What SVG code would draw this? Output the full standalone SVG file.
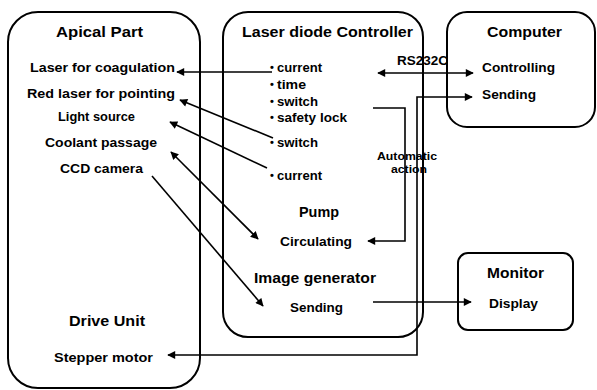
<svg xmlns="http://www.w3.org/2000/svg" width="597" height="390" viewBox="0 0 597 390">
<defs>
<style>
.box{fill:none;stroke:#000;stroke-width:2}
.t{font-family:"Liberation Sans",Arial,sans-serif;font-weight:bold;font-size:13.5px;fill:#000}
.h{font-family:"Liberation Sans",Arial,sans-serif;font-weight:bold;font-size:14px;fill:#000}
.s{font-family:"Liberation Sans",Arial,sans-serif;font-weight:bold;font-size:11px;fill:#000}
.b{font-family:"Liberation Sans",Arial,sans-serif;font-weight:bold;font-size:11px;fill:#000}
.c{fill:none;stroke:#000;stroke-width:1.6}
</style>
<marker id="ah" viewBox="0 0 10 10" refX="9" refY="5" markerWidth="9" markerHeight="8" markerUnits="userSpaceOnUse" orient="auto-start-reverse">
<path d="M0,0 L10,5 L0,10 Z" fill="#000"/>
</marker>
</defs>
<rect width="597" height="390" fill="#fff"/>

<g id="apical">
<rect class="box" x="8" y="12" width="192" height="376" rx="30"/>
<text class="h" x="56" y="37" textLength="87" lengthAdjust="spacingAndGlyphs">Apical Part</text>
<text class="t" x="30" y="72" textLength="145" lengthAdjust="spacingAndGlyphs">Laser for coagulation</text>
<text class="t" x="27" y="98" textLength="148" lengthAdjust="spacingAndGlyphs">Red laser for pointing</text>
<text class="t" x="58" y="121" textLength="77" lengthAdjust="spacingAndGlyphs">Light source</text>
<text class="t" x="45" y="147" textLength="112" lengthAdjust="spacingAndGlyphs">Coolant passage</text>
<text class="t" x="60" y="173" textLength="83" lengthAdjust="spacingAndGlyphs">CCD camera</text>
<text class="h" x="69" y="326" textLength="76" lengthAdjust="spacingAndGlyphs">Drive Unit</text>
<text class="t" x="54" y="362" textLength="99" lengthAdjust="spacingAndGlyphs">Stepper motor</text>
</g>

<g id="controller">
<rect class="box" x="223" y="12" width="200" height="325" rx="25"/>
<text class="h" x="242" y="37" textLength="171" lengthAdjust="spacingAndGlyphs">Laser diode Controller</text>
<text class="b" x="270" y="71">•</text><text class="t" x="277" y="72" textLength="45" lengthAdjust="spacingAndGlyphs">current</text>
<text class="b" x="270" y="88">•</text><text class="t" x="277" y="89" textLength="29" lengthAdjust="spacingAndGlyphs">time</text>
<text class="b" x="270" y="105">•</text><text class="t" x="277" y="106" textLength="41" lengthAdjust="spacingAndGlyphs">switch</text>
<text class="b" x="270" y="121">•</text><text class="t" x="277" y="122" textLength="70" lengthAdjust="spacingAndGlyphs">safety lock</text>
<text class="b" x="270" y="146">•</text><text class="t" x="277" y="147" textLength="41" lengthAdjust="spacingAndGlyphs">switch</text>
<text class="b" x="270" y="179">•</text><text class="t" x="277" y="180" textLength="45" lengthAdjust="spacingAndGlyphs">current</text>
<text class="h" x="299" y="217" textLength="40" lengthAdjust="spacingAndGlyphs">Pump</text>
<text class="t" x="280" y="246" textLength="72" lengthAdjust="spacingAndGlyphs">Circulating</text>
<text class="h" x="254" y="283" textLength="122" lengthAdjust="spacingAndGlyphs">Image generator</text>
<text class="t" x="290" y="312" textLength="53" lengthAdjust="spacingAndGlyphs">Sending</text>
</g>

<g id="computer">
<rect class="box" x="447" y="12" width="148" height="115" rx="20"/>
<text class="h" x="487" y="37" textLength="75" lengthAdjust="spacingAndGlyphs">Computer</text>
<text class="t" x="482" y="72" textLength="73" lengthAdjust="spacingAndGlyphs">Controlling</text>
<text class="t" x="482" y="99" textLength="54" lengthAdjust="spacingAndGlyphs">Sending</text>
</g>

<g id="monitor">
<rect class="box" x="458" y="253" width="115" height="77" rx="10"/>
<text class="h" x="487" y="278" textLength="57" lengthAdjust="spacingAndGlyphs">Monitor</text>
<text class="t" x="489" y="308" textLength="49" lengthAdjust="spacingAndGlyphs">Display</text>
</g>

<g id="labels">
<text class="t" x="397" y="65" textLength="51" lengthAdjust="spacingAndGlyphs">RS232C</text>
<text class="s" x="377" y="160" textLength="60" lengthAdjust="spacingAndGlyphs">Automatic</text>
<text class="s" x="391" y="173" textLength="36" lengthAdjust="spacingAndGlyphs">action</text>
</g>

<g id="connectors">
<path class="c" d="M272,72 H177" marker-end="url(#ah)"/>
<path class="c" d="M378,73 H473" marker-start="url(#ah)" marker-end="url(#ah)"/>
<path class="c" d="M168,355 H417 V97 H472" marker-start="url(#ah)" marker-end="url(#ah)"/>
<path class="c" d="M373,108 H405 V241 H368" marker-end="url(#ah)"/>
<path class="c" d="M273,138 L180,100" marker-end="url(#ah)"/>
<path class="c" d="M267,168 L170,122" marker-end="url(#ah)"/>
<path class="c" d="M171,152 L258,239" marker-start="url(#ah)" marker-end="url(#ah)"/>
<path class="c" d="M152,176 L263,306" marker-end="url(#ah)"/>
<path class="c" d="M373,302 H471" marker-end="url(#ah)"/>
</g>
</svg>
